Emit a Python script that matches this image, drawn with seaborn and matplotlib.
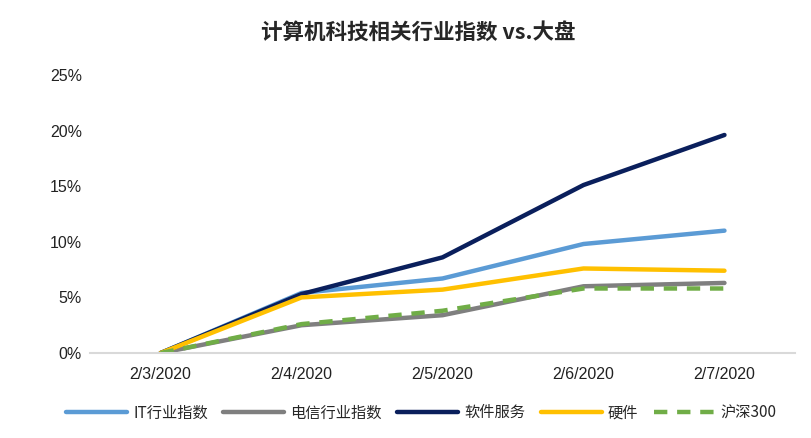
import pandas as pd
import matplotlib.pyplot as plt
import seaborn as sns

# Data
dates = ["2/3/2020", "2/4/2020", "2/5/2020", "2/6/2020", "2/7/2020"]
it_index = [0.0, 5.4, 6.7, 9.8, 11.0]
telecom_index = [0.0, 2.5, 3.4, 6.0, 6.3]
software = [0.0, 5.3, 8.6, 15.1, 19.6]
hardware = [0.0, 5.0, 5.7, 7.6, 7.4]
hs300 = [0.0, 2.6, 3.8, 5.8, 5.8]

series_names = ["IT行业指数", "电信行业指数", "软件服务", "硬件", "沪深300"]
series_values = [it_index, telecom_index, software, hardware, hs300]
colors = ["#5B9BD5", "#7F7F7F", "#0A1F5C", "#FFC000", "#70AD47"]

sns.set_style("white")
plt.rcParams["font.family"] = ["Liberation Sans", "Noto Sans CJK SC", "DejaVu Sans"]

fig = plt.figure(figsize=(8.12, 4.38), dpi=100)
ax = fig.add_axes([0.111, 0.194, 0.868, 0.635])

x = list(range(len(dates)))
for name, vals, col in zip(series_names, series_values, colors):
    df = pd.DataFrame({"x": x, "y": vals})
    sns.lineplot(data=df, x="x", y="y", ax=ax, color=col, linewidth=3.2, label=name)
ax.lines[-1].set_dashes((3, 2.2))
for ln in ax.lines:
    ln.set_solid_capstyle("round")
    ln.set_dash_capstyle("butt")

ax.set_xlim(-0.5, 4.5)
ax.set_ylim(0, 25)
ax.set_xticks(x)
ax.set_xticklabels(dates, fontsize=11.5, color="#222222")
ax.set_yticks([0, 5, 10, 15, 20, 25])
ax.set_yticklabels([f"{v}%" for v in [0, 5, 10, 15, 20, 25]], fontsize=11.5, color="#222222")
ax.tick_params(axis="x", pad=10, length=0)
ax.tick_params(axis="y", pad=6, length=0)
ax.set_xlabel("")
ax.set_ylabel("")
for s in ["top", "right", "left"]:
    ax.spines[s].set_visible(False)
ax.spines["bottom"].set_color("#D9D9D9")
ax.spines["bottom"].set_linewidth(1.5)

fig.suptitle("计算机科技相关行业指数 vs.大盘", x=0.515, y=0.95, fontsize=15.5, fontweight="bold",
             family=["Noto Sans CJK SC", "DejaVu Sans"])

leg = ax.legend(loc="upper center", bbox_to_anchor=(0.47, -0.135), ncol=5, frameon=False,
                handlelength=4, columnspacing=1.0, handletextpad=0.4,
                prop={"family": ["Noto Sans CJK SC", "DejaVu Sans"], "size": 11})

fig.savefig("out.png", dpi=100)
